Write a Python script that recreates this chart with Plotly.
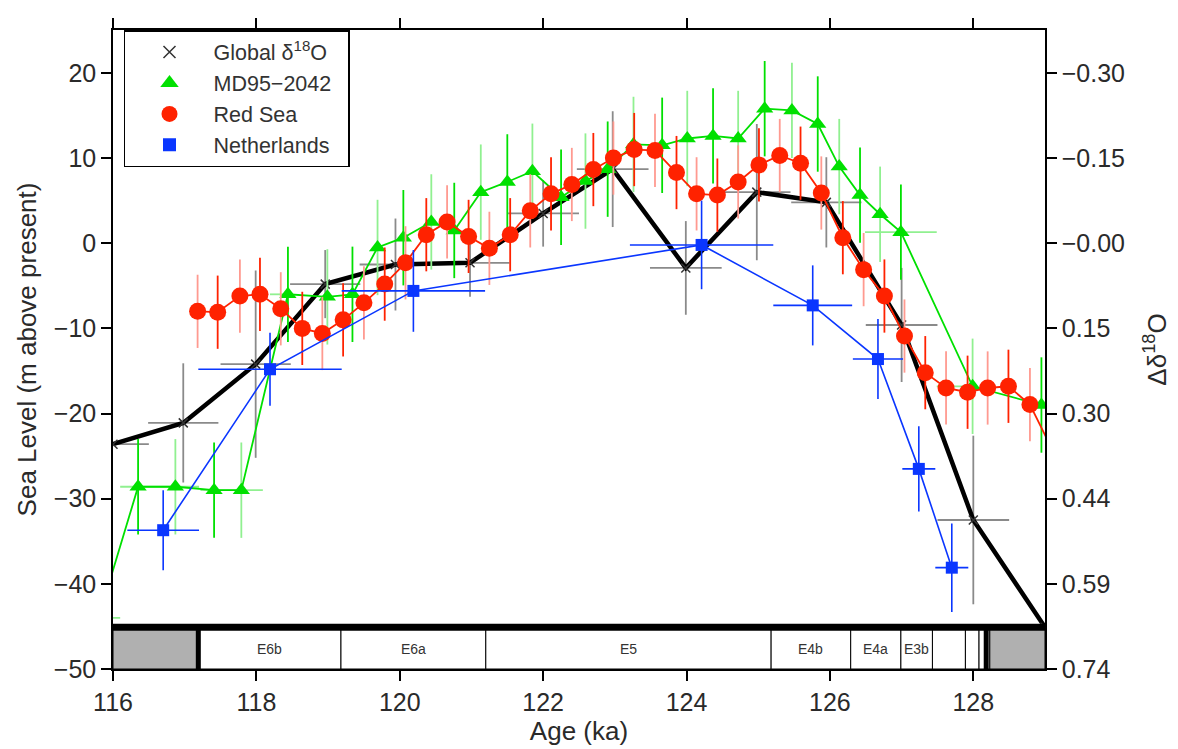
import plotly.graph_objects as go

# ---------------- data ----------------
glob_age = [116.0, 116.98, 117.99, 118.96, 119.94, 120.98, 122.0, 122.97, 123.99, 124.98, 125.95, 127.0, 128.0, 129.0]
glob_sl = [-23.6, -21.1, -14.2, -4.8, -2.5, -2.3, 3.5, 8.7, -2.9, 6.0, 4.8, -9.6, -32.5, -45.1]
glob_xerr = [0.5, 0.49, 0.49, 0.49, 0.5, 0.55, 0.5, 0.5, 0.5, 0.47, 0.49, 0.5, 0.5, 0.0]
glob_yerr = [0.0, 7.0, 11.0, 4.0, 5.4, 4.0, 3.9, 6.8, 5.5, 8.0, 5.3, 6.7, 9.9, 0.0]

green_age = [115.8, 116.35, 116.87, 117.41, 117.79, 118.44, 118.99, 119.34, 119.69, 120.05, 120.44,
             120.76, 121.13, 121.50, 121.85, 122.25, 122.59, 122.90, 123.26, 123.66, 124.01, 124.37,
             124.72, 125.09, 125.47, 125.83, 126.13, 126.42, 126.70, 126.99, 127.99, 128.95]
green_sl = [-44.0, -28.6, -28.6, -29.0, -29.0, -6.0, -6.3, -6.0, -0.5, 0.65, 2.5,
            1.5, 6.0, 7.2, 8.45, 5.4, 7.3, 8.7, 11.6, 11.5, 12.3, 12.6,
            12.3, 15.8, 15.6, 14.0, 9.0, 5.65, 3.4, 1.3, -16.8, -19.0]
green_yerr = 5.6
green_xerr_plus = [0.3, 0.85, 0, 0, 0.3, 0, 0, 0, 0, 0, 0, 0, 0, 0, 0, 0, 0, 0, 0, 0, 0, 0,
                   0, 0, 0, 0, 0, 0, 0, 0.5, 0, 0]
green_xerr_minus = [0.3, 0.25, 0, 0, 0.57, 0.25, 0, 0, 0, 0, 0, 0, 0, 0, 0, 0, 0, 0, 0, 0, 0, 0,
                    0, 0, 0, 0, 0, 0, 0, 0.5, 0.5, 0]

red_age = [117.18, 117.46, 117.77, 118.05, 118.34, 118.64, 118.92, 119.21, 119.50, 119.79, 120.08,
           120.37, 120.66, 120.96, 121.25, 121.54, 121.82, 122.11, 122.40, 122.70, 122.98, 123.27,
           123.56, 123.86, 124.14, 124.43, 124.72, 125.01, 125.30, 125.59, 125.88, 126.18, 126.47,
           126.76, 127.04, 127.33, 127.62, 127.92, 128.20, 128.49, 128.79, 129.3]
red_sl = [-8.0, -8.1, -6.2, -6.0, -7.7, -10.0, -10.6, -9.0, -7.0, -4.8, -2.3,
          1.0, 2.5, 0.8, -0.6, 1.0, 3.8, 5.8, 6.9, 8.65, 10.0, 11.0,
          10.9, 8.3, 5.8, 5.65, 7.2, 9.2, 10.3, 9.4, 5.9, 0.65, -3.1,
          -6.2, -10.9, -15.2, -17.0, -17.5, -17.0, -16.8, -18.95, -27.6]
red_yerr = 4.3

nl_age = [116.70, 118.19, 120.19, 124.21, 125.76, 126.67, 127.24, 127.70]
nl_sl = [-33.7, -14.8, -5.6, -0.2, -7.3, -13.6, -26.5, -38.1]
nl_xerr = [0.5, 1.0, 1.0, 1.0, 0.55, 0.35, 0.23, 0.23]
nl_yerr = [4.7, 4.3, 4.8, 5.2, 4.7, 4.7, 5.0, 5.2]

event_names = ["", "E6b", "E6a", "E5", "E4b", "E4a", "E3b", "", "", "", ""]
event_start = [116.0, 117.19, 119.18, 121.20, 125.18, 126.29, 126.99, 127.43, 127.89, 128.08, 128.23]
event_end = [117.19, 119.18, 121.20, 125.18, 126.29, 126.99, 127.43, 127.89, 128.08, 128.23, 129.0]
event_gray = [True, False, False, False, False, False, False, False, False, False, True]
thick_marks = [117.19, 128.18]
bar_top = -45.1
bar_bottom = -50.0

left_ticks = [20, 10, 0, -10, -20, -30, -40, -50]
right_ticklabels = ["\u22120.30", "\u22120.15", "\u22120.00", "0.15", "0.30", "0.44", "0.59", "0.74"]
x_ticks = [116, 118, 120, 122, 124, 126, 128]

GREEN = "#00e000"
GREEN_L = "#90f090"
RED = "#ff2200"
RED_L = "#ff9a90"
BLUE = "#0a36ff"
GRAY = "#8a8a8a"
FONT = "Liberation Sans, Arial, sans-serif"
TXT = "#2a2a2a"

fig = go.Figure()

# ---- Global d18O ----
fig.add_trace(go.Scatter(
    x=glob_age, y=glob_sl, mode="lines+markers",
    line=dict(color="black", width=4.5),
    marker=dict(symbol="x-thin", size=9, color="#333", line=dict(width=1.5, color="#333")),
    error_x=dict(type="data", array=glob_xerr, color=GRAY, thickness=1.8, width=0),
    error_y=dict(type="data", array=glob_yerr, color=GRAY, thickness=1.8, width=0),
    showlegend=False))

# ---- MD95-2042 ----
g_idx_a = [i for i in range(len(green_age)) if i % 2 == 0]
g_idx_b = [i for i in range(len(green_age)) if i % 2 == 1]
for idx, col in ((g_idx_a, GREEN_L), (g_idx_b, GREEN)):
    fig.add_trace(go.Scatter(
        x=[green_age[i] for i in idx], y=[green_sl[i] for i in idx], mode="markers",
        marker=dict(size=1, color="rgba(0,0,0,0)"),
        error_y=dict(type="constant", value=green_yerr, color=col, thickness=1.8, width=0),
        error_x=dict(type="data", symmetric=False,
                     array=[green_xerr_plus[i] for i in idx],
                     arrayminus=[green_xerr_minus[i] for i in idx],
                     color=GREEN_L, thickness=1.8, width=0),
        showlegend=False, hoverinfo="skip"))
fig.add_trace(go.Scatter(
    x=green_age, y=green_sl, mode="lines+markers",
    line=dict(color=GREEN, width=1.8),
    marker=dict(symbol="triangle-up", size=15, color=GREEN),
    showlegend=False))

# ---- Red Sea ----
r_idx_a = [i for i in range(len(red_age)) if i % 2 == 0]
r_idx_b = [i for i in range(len(red_age)) if i % 2 == 1]
for idx, col in ((r_idx_a, RED_L), (r_idx_b, RED)):
    fig.add_trace(go.Scatter(
        x=[red_age[i] for i in idx], y=[red_sl[i] for i in idx], mode="markers",
        marker=dict(size=1, color="rgba(0,0,0,0)"),
        error_y=dict(type="constant", value=red_yerr, color=col, thickness=1.8, width=0),
        showlegend=False, hoverinfo="skip"))
fig.add_trace(go.Scatter(
    x=red_age, y=red_sl, mode="lines+markers",
    line=dict(color=RED, width=1.8),
    marker=dict(symbol="circle", size=17, color=RED),
    showlegend=False))

# ---- Netherlands ----
fig.add_trace(go.Scatter(
    x=nl_age, y=nl_sl, mode="lines+markers",
    line=dict(color=BLUE, width=1.6),
    marker=dict(symbol="square", size=12, color=BLUE),
    error_x=dict(type="data", array=nl_xerr, color=BLUE, thickness=1.6, width=0),
    error_y=dict(type="data", array=nl_yerr, color=BLUE, thickness=1.6, width=0),
    showlegend=False))

# ---- legend entries ----
leg = [
    ("Global \u03b4<sup>18</sup>O", dict(symbol="x-thin", size=12, color="#333", line=dict(width=1.5, color="#333"))),
    ("MD95\u22122042\u00a0\u00a0", dict(symbol="triangle-up", size=17, color=GREEN)),
    ("Red Sea", dict(symbol="circle", size=17, color=RED)),
    ("Netherlands", dict(symbol="square", size=13, color=BLUE)),
]
for name, mk in leg:
    fig.add_trace(go.Scatter(x=[None], y=[None], mode="markers", name=name, marker=mk, showlegend=True))

# ---- event bar ----
shapes = []
for s, e, g in zip(event_start, event_end, event_gray):
    shapes.append(dict(type="rect", xref="x", yref="y", x0=s, x1=e, y0=bar_bottom, y1=bar_top,
                       fillcolor="#b0b0b0" if g else "white",
                       line=dict(color="black", width=1), layer="above"))
for t in thick_marks:
    shapes.append(dict(type="line", xref="x", yref="y", x0=t, x1=t, y0=bar_bottom, y1=bar_top,
                       line=dict(color="black", width=5), layer="above"))
shapes.append(dict(type="line", xref="x", yref="y", x0=116, x1=129, y0=bar_top, y1=bar_top,
                   line=dict(color="black", width=7), layer="above"))

annotations = []
for n, s, e in zip(event_names, event_start, event_end):
    if n:
        annotations.append(dict(x=(s + e) / 2, y=(bar_top + bar_bottom) / 2 - 0.15, xref="x", yref="y",
                                text=n, showarrow=False, font=dict(size=14, color="#333", family=FONT)))

fig.update_layout(
    width=1170, height=741,
    margin=dict(l=105, r=133, t=10, b=80),
    paper_bgcolor="white", plot_bgcolor="white",
    font=dict(family=FONT, color=TXT, size=25),
    shapes=shapes, annotations=annotations,
    showlegend=True,
    legend=dict(x=0.0118, y=1.0, xanchor="left", yanchor="top",
                bgcolor="white", bordercolor="black", borderwidth=1.5,
                font=dict(size=21.5, color="#333", family=FONT),
                itemwidth=78),
    xaxis=dict(range=[116, 129], tickvals=x_ticks, ticks="outside", ticklen=10, tickwidth=1.5,
               tickcolor="black", showline=True, linecolor="black", linewidth=1.5,
               mirror="ticks", showgrid=False, zeroline=False,
               title=dict(text="Age (ka)", font=dict(size=26), standoff=4),
               tickfont=dict(size=25)),
    yaxis=dict(range=[-50, 25.04], tickvals=left_ticks,
               ticktext=[("\u2212%d" % abs(v)) if v < 0 else str(v) for v in left_ticks],
               ticks="outside", ticklen=10, tickwidth=1.5, tickcolor="black",
               showline=True, linecolor="black", linewidth=1.5, showgrid=False, zeroline=False,
               title=dict(text="Sea Level (m above present)", font=dict(size=26), standoff=10),
               tickfont=dict(size=25)),
    yaxis2=dict(range=[-50, 25.04], overlaying="y", side="right", tickvals=left_ticks,
                ticktext=right_ticklabels, ticks="outside", ticklen=10, tickwidth=1.5,
                tickcolor="black", showline=True, linecolor="black", linewidth=1.5,
                showgrid=False, zeroline=False,
                title=dict(text="\u0394\u03b4<sup>18</sup>O", font=dict(size=26), standoff=24),
                tickfont=dict(size=25)),
)
fig.add_trace(go.Scatter(x=[None], y=[None], yaxis="y2", showlegend=False))

fig.write_html("out.html")
